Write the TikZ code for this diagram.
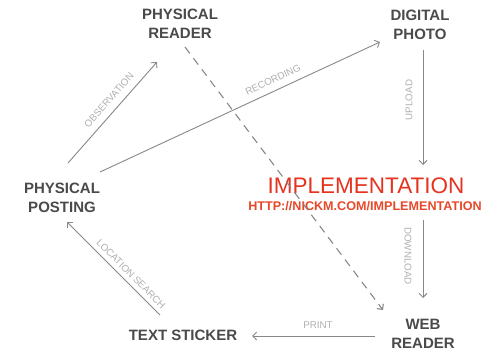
\documentclass[tikz,border=0pt]{standalone}
\usepackage{fontspec}
\setmainfont{Liberation Sans}
\usetikzlibrary{arrows.meta}
\definecolor{nodetext}{HTML}{4A4A4A}
\definecolor{arrowgray}{HTML}{888888}
\definecolor{labelgray}{HTML}{B0B0B0}
\definecolor{implred}{HTML}{E5331F}
\definecolor{urlred}{HTML}{E8482A}
\tikzset{
  box/.style={align=center, inner sep=0pt, text=nodetext, font=\bfseries\fontsize{15}{19}\selectfont},
  lab/.style={inner sep=0pt, text=labelgray, font=\fontsize{9.8}{11}\selectfont},
  conn/.style={draw=arrowgray, line width=0.9pt, -{Straight Barb[length=4pt,width=8pt]}},
}
\begin{document}
\begin{tikzpicture}[x=1pt,y=-1pt]
\useasboundingbox[fill=white] (0,0) rectangle (495,352);
% nodes
\node[box] (pr) at (180,24) {PHYSICAL\\READER};
\node[box] (dp) at (420,25) {DIGITAL\\PHOTO};
\node[box] (pp) at (62,197.5) {PHYSICAL\\POSTING};
\node[box] (ts) at (183,335) {TEXT STICKER};
\node[box] (wr) at (423,334) {WEB\\READER};
\node[inner sep=0pt, text=implred, font=\fontsize{22.5}{24}\selectfont] (impl) at (366,186) {IMPLEMENTATION};
\node[inner sep=0pt, text=urlred, font=\bfseries\fontsize{12.6}{14}\selectfont] (url) at (365,206) {HTTP://NICKM.COM/IMPLEMENTATION};
% connector end points
\coordinate (obsA) at (68,163);
\coordinate (obsB) at (157,62);
\coordinate (recA) at (100,172);
\coordinate (recB) at (380,42);
\coordinate (dashA) at (185,47);
\coordinate (dashB) at (383,310);
\coordinate (upA) at (423,50);
\coordinate (upB) at (423,165);
\coordinate (downA) at (423,220);
\coordinate (downB) at (423,298);
\coordinate (printA) at (375,336);
\coordinate (printB) at (252,336);
\coordinate (locA) at (160,315);
\coordinate (locB) at (67,222);
% connectors
\draw[conn] (obsA) -- (obsB);
\draw[conn] (recA) -- (recB);
\draw[conn, line width=1.1pt, dash pattern=on 8pt off 6pt] (dashA) -- (dashB);
\draw[conn] (upA) -- (upB);
\draw[conn] (downA) -- (downB);
\draw[conn] (printA) -- (printB);
\draw[conn] (locA) -- (locB);
% labels
\node[lab, rotate=48.6] (lobs) at (109,100) {OBSERVATION};
\node[lab, rotate=24.9] (lrec) at (273,80) {RECORDING};
\node[lab, rotate=90] (lup) at (409,100) {UPLOAD};
\node[lab, rotate=-90] (ldown) at (408,256) {DOWNLOAD};
\node[lab] (lprint) at (318,325) {PRINT};
\node[lab, rotate=-45] (lloc) at (131,274) {LOCATION SEARCH};
\end{tikzpicture}
\end{document}
